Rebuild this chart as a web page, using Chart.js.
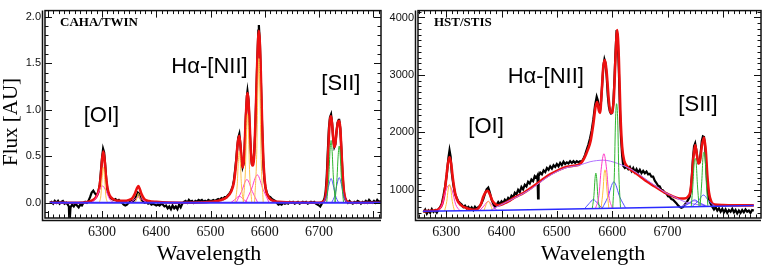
<!DOCTYPE html>
<html>
<head>
<meta charset="utf-8">
<script src="https://cdn.jsdelivr.net/npm/chart.js@4.4.1/dist/chart.umd.min.js"></script>
<style>
  html, body { margin: 0; padding: 0; background: #fff; }
  #wrap { position: relative; width: 764px; height: 268px; overflow: hidden; }
  canvas { position: absolute; top: 0; }
  #cL { left: 0; }
  #cR { left: 384px; }
</style>
</head>
<body>
<div id="wrap">
  <canvas id="cL" width="384" height="268"></canvas>
  <canvas id="cR" width="380" height="268"></canvas>
</div>
<script>
// tick labels
const xLabels = [6300, 6400, 6500, 6600, 6700];
const leftYLabels = [0, 0.5, 1.0, 1.5, 2.0];
const rightYLabels = [1000, 2000, 3000, 4000];

// ---- CAHA/TWIN (left) : [wavelength, flux]
const leftObs = [[6204,0.00],[6207,0.01],[6210,-0.01],[6213,0.02],[6216,0.00],[6219,0.02],[6222,-0.01],[6225,0.01],[6228,0.02],[6231,-0.01],[6234,0.00],[6237,-0.02],[6239,-0.04],[6240,-0.24],[6241,-0.24],[6242,-0.05],[6245,-0.02],[6248,-0.04],[6251,-0.01],[6254,-0.03],[6257,-0.05],[6260,-0.02],[6263,-0.03],[6266,0.00],[6269,0.01],[6272,0.00],[6275,0.02],[6278,0.06],[6281,0.11],[6284,0.13],[6287,0.10],[6290,0.08],[6293,0.11],[6296,0.20],[6298,0.34],[6300,0.48],[6302,0.58],[6304,0.54],[6306,0.40],[6308,0.24],[6310,0.14],[6313,0.08],[6316,0.05],[6319,0.04],[6322,0.03],[6325,0.04],[6328,0.02],[6331,0.03],[6334,0.01],[6337,0.00],[6340,-0.02],[6343,-0.03],[6346,-0.02],[6349,0.00],[6352,0.01],[6355,0.02],[6358,0.02],[6361,0.04],[6364,0.08],[6366,0.11],[6368,0.10],[6370,0.06],[6373,0.03],[6376,0.01],[6379,0.00],[6382,0.01],[6385,-0.01],[6388,0.00],[6391,-0.02],[6394,-0.01],[6397,-0.02],[6400,-0.03],[6403,-0.02],[6406,-0.03],[6409,-0.01],[6412,-0.02],[6415,-0.04],[6418,-0.03],[6421,-0.06],[6424,-0.04],[6427,-0.07],[6430,-0.03],[6433,-0.06],[6436,-0.04],[6439,-0.07],[6442,-0.02],[6445,-0.05],[6448,-0.01],[6451,0.01],[6454,0.02],[6457,0.00],[6460,0.03],[6463,0.01],[6466,0.02],[6469,0.00],[6472,0.02],[6475,0.01],[6478,0.03],[6481,0.02],[6484,0.03],[6487,0.01],[6490,0.02],[6493,0.01],[6496,0.03],[6499,0.02],[6502,0.02],[6505,0.03],[6508,0.02],[6511,0.03],[6514,0.04],[6517,0.03],[6520,0.05],[6523,0.04],[6526,0.06],[6529,0.06],[6532,0.08],[6535,0.10],[6538,0.13],[6541,0.18],[6543,0.24],[6545,0.34],[6547,0.45],[6549,0.58],[6551,0.70],[6553,0.74],[6555,0.63],[6557,0.46],[6559,0.38],[6561,0.42],[6563,0.62],[6565,0.93],[6567,1.15],[6568,1.20],[6570,1.10],[6572,0.80],[6574,0.56],[6576,0.42],[6578,0.42],[6580,0.50],[6582,0.72],[6584,1.10],[6586,1.52],[6588,1.85],[6589,1.91],[6591,1.70],[6593,1.25],[6595,0.82],[6597,0.45],[6599,0.26],[6601,0.17],[6604,0.10],[6607,0.07],[6610,0.06],[6613,0.04],[6616,0.03],[6619,0.02],[6622,0.00],[6625,-0.02],[6628,-0.01],[6631,-0.02],[6634,0.00],[6637,-0.01],[6640,0.00],[6643,-0.01],[6646,0.01],[6649,0.00],[6652,0.01],[6655,-0.01],[6658,0.00],[6661,0.01],[6664,-0.01],[6667,0.00],[6670,0.01],[6673,0.00],[6676,0.01],[6679,-0.01],[6682,0.00],[6685,0.01],[6688,0.00],[6691,0.01],[6694,-0.01],[6697,-0.02],[6700,-0.03],[6702,-0.04],[6704,-0.02],[6706,0.00],[6708,0.02],[6710,0.05],[6712,0.12],[6714,0.28],[6716,0.55],[6718,0.80],[6720,0.92],[6722,0.95],[6724,0.85],[6726,0.68],[6728,0.60],[6730,0.63],[6732,0.76],[6734,0.86],[6736,0.89],[6737,0.89],[6739,0.80],[6741,0.58],[6743,0.32],[6745,0.15],[6747,0.06],[6750,0.02],[6753,0.00],[6756,0.02],[6759,0.00],[6762,-0.01],[6765,0.01],[6768,0.00],[6771,0.02],[6774,0.01],[6777,-0.01],[6780,0.01],[6783,0.00],[6786,0.02],[6789,0.00],[6792,0.03],[6795,0.01],[6798,0.00],[6801,0.02],[6804,0.00],[6807,0.03],[6810,0.01],[6814,0.02]];

const leftFit = [[6204,0.0],[6250,0.0],[6270,0.005],[6280,0.02],[6286,0.04],[6291,0.08],[6295,0.16],[6298,0.30],[6300,0.45],[6302.5,0.55],[6305,0.45],[6307,0.30],[6310,0.16],[6314,0.08],[6320,0.04],[6330,0.02],[6340,0.02],[6350,0.03],[6356,0.05],[6360,0.09],[6364,0.15],[6367,0.18],[6370,0.14],[6373,0.09],[6378,0.04],[6386,0.02],[6400,0.01],[6450,0.0],[6500,0.01],[6520,0.03],[6530,0.06],[6538,0.12],[6543,0.22],[6547,0.42],[6550,0.64],[6553,0.72],[6556,0.55],[6559,0.38],[6562,0.50],[6565,0.92],[6568,1.18],[6571,0.98],[6574,0.58],[6577,0.40],[6580,0.48],[6583,0.92],[6586,1.50],[6589,1.85],[6592,1.52],[6595,0.85],[6598,0.38],[6601,0.17],[6605,0.08],[6612,0.03],[6625,0.01],[6700,0.0],[6709,0.02],[6712,0.07],[6715,0.30],[6718,0.72],[6720,0.89],[6722,0.93],[6724,0.84],[6727,0.63],[6729,0.60],[6732,0.76],[6735,0.87],[6737,0.88],[6739,0.80],[6742,0.45],[6745,0.16],[6748,0.05],[6752,0.01],[6760,0.0],[6814,0.0]];

const leftYellow = [
  [[6295,0],[6298,0.08],[6300,0.25],[6302.5,0.38],[6305,0.25],[6307,0.08],[6310,0]],
  [[6361,0],[6364,0.04],[6367,0.10],[6370,0.04],[6373,0]],
  [[6545,0],[6549,0.18],[6551,0.42],[6553,0.55],[6555,0.42],[6557,0.18],[6561,0]],
  [[6560,0],[6564,0.32],[6566,0.72],[6568,0.95],[6570,0.72],[6572,0.32],[6576,0]],
  [[6581,0],[6585,0.52],[6587,1.18],[6589,1.55],[6591,1.18],[6593,0.52],[6597,0]]
];
const leftMagenta = [
  [[6280,0],[6288,0.04],[6294,0.12],[6301,0.18],[6308,0.12],[6314,0.04],[6322,0]],
  [[6351,0],[6359,0.03],[6367,0.06],[6375,0.03],[6383,0]],
  [[6537,0],[6545,0.035],[6553,0.07],[6561,0.035],[6569,0]],
  [[6547,0],[6557,0.12],[6567,0.25],[6577,0.12],[6587,0]],
  [[6564,0],[6575,0.14],[6586,0.30],[6597,0.14],[6608,0]]
];
const leftGreen = [
  [[6714,0],[6718,0.30],[6720,0.55],[6722,0.67],[6724,0.55],[6726,0.30],[6730,0]],
  [[6729,0],[6733,0.27],[6735,0.50],[6737,0.61],[6739,0.50],[6741,0.27],[6745,0]]
];
const leftBlue = [
  [[6708,0],[6714,0.08],[6718,0.19],[6722,0.26],[6726,0.19],[6730,0.08],[6736,0]],
  [[6723,0],[6729,0.08],[6733,0.20],[6737,0.27],[6741,0.20],[6745,0.08],[6751,0]]
];
const leftBase = [[6204,0],[6814,0]];

// ---- HST/STIS (right)
const rightObs = [[6259,610],[6262,655],[6265,585],[6268,640],[6271,600],[6274,665],[6277,615],[6280,645],[6283,605],[6286,660],[6289,700],[6292,760],[6295,900],[6298,1060],[6301,1260],[6304,1560],[6306,1690],[6308,1580],[6310,1300],[6313,1080],[6316,930],[6319,860],[6322,800],[6325,770],[6328,745],[6331,700],[6334,725],[6337,680],[6340,705],[6343,660],[6346,695],[6349,650],[6352,705],[6355,670],[6358,700],[6361,720],[6364,770],[6367,840],[6370,930],[6373,1010],[6376,1040],[6379,950],[6382,830],[6385,760],[6388,700],[6391,740],[6394,790],[6397,750],[6400,800],[6403,770],[6406,830],[6409,800],[6412,860],[6415,830],[6418,900],[6421,870],[6424,950],[6427,920],[6430,1000],[6433,960],[6436,1050],[6439,1010],[6442,1090],[6445,1060],[6448,1140],[6451,1110],[6454,1180],[6457,1150],[6460,1240],[6463,1210],[6465,1250],[6466,850],[6467,1240],[6470,1300],[6473,1270],[6476,1340],[6479,1310],[6482,1380],[6485,1350],[6488,1410],[6491,1370],[6494,1430],[6497,1400],[6500,1450],[6503,1410],[6506,1470],[6509,1430],[6512,1490],[6515,1450],[6518,1480],[6521,1460],[6524,1500],[6527,1470],[6530,1500],[6533,1470],[6536,1500],[6539,1480],[6542,1500],[6545,1490],[6548,1540],[6551,1610],[6554,1700],[6557,1790],[6560,1900],[6563,2040],[6566,2230],[6569,2470],[6572,2620],[6574,2560],[6576,2420],[6578,2390],[6580,2550],[6582,2850],[6584,3150],[6586,3270],[6588,3200],[6590,2980],[6592,2650],[6594,2450],[6596,2360],[6598,2330],[6600,2340],[6602,2500],[6604,2900],[6606,3400],[6608,3780],[6610,3650],[6612,3100],[6614,2400],[6616,1900],[6618,1600],[6620,1420],[6623,1380],[6626,1400],[6629,1360],[6632,1400],[6635,1330],[6638,1380],[6641,1310],[6644,1360],[6647,1300],[6650,1350],[6653,1290],[6656,1330],[6659,1290],[6662,1320],[6665,1270],[6668,1280],[6671,1230],[6674,1230],[6677,1160],[6680,1120],[6683,1070],[6686,1060],[6689,1000],[6692,990],[6695,950],[6698,940],[6701,890],[6704,880],[6707,840],[6710,830],[6713,800],[6716,770],[6719,730],[6722,705],[6725,690],[6728,700],[6731,740],[6734,780],[6737,820],[6740,880],[6742,980],[6744,1250],[6746,1550],[6748,1760],[6750,1810],[6752,1700],[6754,1540],[6756,1470],[6758,1480],[6760,1650],[6762,1850],[6764,1930],[6766,1920],[6768,1750],[6770,1400],[6772,1080],[6774,880],[6777,780],[6780,720],[6784,660],[6787,700],[6790,640],[6793,680],[6796,620],[6799,670],[6802,610],[6805,660],[6808,600],[6811,650],[6814,620],[6817,670],[6820,610],[6823,650],[6826,590],[6829,640],[6832,600],[6835,650],[6838,610],[6841,660],[6844,620],[6847,640],[6850,600],[6853,650],[6856,640]];

const rightFit = [[6258,630],[6280,640],[6288,680],[6293,760],[6297,950],[6300,1200],[6303,1450],[6306,1570],[6309,1450],[6312,1200],[6316,950],[6320,820],[6326,740],[6335,690],[6345,660],[6352,655],[6358,680],[6363,760],[6367,880],[6371,960],[6375,985],[6379,920],[6383,820],[6388,760],[6394,730],[6410,790],[6424,870],[6440,950],[6454,1040],[6470,1150],[6484,1250],[6500,1330],[6514,1390],[6530,1420],[6542,1450],[6550,1560],[6556,1700],[6561,1850],[6566,2150],[6570,2450],[6573,2530],[6576,2380],[6578,2340],[6581,2700],[6584,3150],[6587,3260],[6590,3050],[6594,2550],[6597,2350],[6600,2340],[6603,2600],[6606,3300],[6609,3780],[6612,3300],[6615,2300],[6618,1750],[6622,1500],[6628,1400],[6638,1320],[6650,1240],[6662,1150],[6677,1060],[6692,970],[6707,900],[6722,850],[6730,850],[6737,880],[6741,960],[6744,1200],[6747,1580],[6750,1780],[6753,1620],[6756,1460],[6759,1520],[6762,1760],[6766,1910],[6769,1700],[6772,1250],[6775,950],[6779,800],[6785,745],[6800,735],[6830,730],[6856,730]];

const rightYellow = [
  [[6297,632],[6301,800],[6303.5,1000],[6306,1096],[6308.5,1000],[6311,800],[6315,632]],
  [[6368,636],[6372,740],[6376,803],[6380,740],[6384,637]],
  [[6580,682],[6583.5,1000],[6585.5,1280],[6587,1349],[6588.5,1280],[6590.5,1000],[6594,684]]
];
const rightMagenta = [
  [[6285,632],[6293,750],[6299,980],[6305,1080],[6311,980],[6317,750],[6325,634]],
  [[6360,635],[6368,720],[6376,800],[6384,720],[6392,638]],
  [[6570,680],[6576,900],[6580,1350],[6585,1629],[6590,1350],[6594,900],[6600,685]]
];
const rightGreen = [
  [[6564,676],[6567,900],[6569,1200],[6570.5,1292],[6572,1200],[6574,900],[6577,676]],
  [[6601,686],[6604,1300],[6606,2200],[6608,2500],[6610,2200],[6612,1300],[6615,690]],
  [[6743,720],[6746,1100],[6748,1450],[6750,1545],[6752,1450],[6754,1100],[6757,720]],
  [[6759,722],[6762,1150],[6764,1560],[6766,1657],[6768,1560],[6770,1150],[6773,722]]
];
const rightBlue = [
  [[6550,672],[6558,760],[6566,831],[6574,760],[6582,680]],
  [[6582,680],[6592,870],[6603,1140],[6614,870],[6624,690]],
  [[6730,715],[6740,770],[6749,826],[6758,770],[6768,722]],
  [[6745,720],[6755,800],[6765,910],[6775,800],[6785,725]]
];
const rightViolet = [
  [[6380,645],[6395,720],[6424,860],[6454,1020],[6484,1230],[6515,1380],[6541,1430],[6560,1490],[6584,1517],[6610,1460],[6636,1348],[6666,1152],[6696,955],[6714,870],[6732,790],[6750,750],[6770,725]],
  [[6725,712],[6737,770],[6748,810],[6759,770],[6771,722]]
];
const rightBase = [[6258,630],[6400,648],[6550,672],[6700,700],[6856,728]];

// ---- helpers
function line(pts, color, width, order, smooth) {
  return {
    data: pts.map(p => ({ x: p[0], y: p[1] })),
    borderColor: color, borderWidth: width, pointRadius: 0, fill: false,
    order: order, tension: 0,
    cubicInterpolationMode: smooth ? 'monotone' : 'default'
  };
}
function group(curves, color, width, order) {
  return curves.map(c => line(c, color, width, order, true));
}

// inward ticks + frame (IDL look)
const frameTicks = {
  id: 'frameTicks',
  afterDatasetsDraw(chart, args, o) {
    const { ctx, chartArea: a, scales: { x, y } } = chart;
    ctx.save();
    ctx.strokeStyle = '#111';
    ctx.lineWidth = 1;
    ctx.beginPath();
    for (let w = 6200; w <= 6860; w += 10) {
      const p = Math.round(x.getPixelForValue(w)) + 0.5;
      if (p <= a.left + 1 || p >= a.right - 1) continue;
      const len = w % 100 === 0 ? 7 : 3.5;
      ctx.moveTo(p, a.bottom); ctx.lineTo(p, a.bottom - len);
      ctx.moveTo(p, a.top); ctx.lineTo(p, a.top + len);
    }
    o.yMinor.forEach(v => {
      const p = Math.round(y.getPixelForValue(v)) + 0.5;
      if (p <= a.top + 1 || p >= a.bottom - 1) return;
      const len = o.yMajor.includes(v) ? 7 : 3.5;
      ctx.moveTo(a.left, p); ctx.lineTo(a.left + len, p);
      ctx.moveTo(a.right, p); ctx.lineTo(a.right - len, p);
    });
    ctx.stroke();
    ctx.lineWidth = 1.5;
    ctx.strokeRect(a.left, a.top, a.right - a.left, a.bottom - a.top);
    ctx.beginPath();
    ctx.moveTo(a.left - 2.5, a.top);
    ctx.lineTo(a.left - 2.5, a.bottom + 2.5);
    ctx.lineTo(a.right, a.bottom + 2.5);
    ctx.stroke();
    ctx.restore();
  }
};

// text labels: data coords (data:true) or canvas pixels
const texts = {
  id: 'texts',
  afterDraw(chart, args, o) {
    const ctx = chart.ctx;
    o.items.forEach(t => {
      let px = t.x, py = t.y;
      if (t.data) { px = chart.scales.x.getPixelForValue(t.x); py = chart.scales.y.getPixelForValue(t.y); }
      ctx.save();
      ctx.font = t.font;
      ctx.fillStyle = '#000';
      ctx.textAlign = t.align || 'center';
      ctx.textBaseline = 'middle';
      ctx.translate(px, py);
      if (t.rot) ctx.rotate(t.rot);
      ctx.fillText(t.text, 0, 0);
      ctx.restore();
    });
  }
};

function makeChart(id, cfg) {
  return new Chart(document.getElementById(id), {
    type: 'line',
    data: { datasets: cfg.datasets },
    plugins: [frameTicks, texts],
    options: {
      responsive: false, animation: false, events: [],
      devicePixelRatio: 1,
      layout: { padding: { left: 0, right: 3, top: 4, bottom: 0 } },
      plugins: {
        legend: { display: false }, tooltip: { enabled: false },
        frameTicks: { yMinor: cfg.yMinor, yMajor: cfg.yLabels },
        texts: { items: cfg.texts }
      },
      scales: {
        x: {
          type: 'linear', min: cfg.xMin, max: cfg.xMax,
          grid: { display: false, drawTicks: false }, border: { display: false },
          afterBuildTicks: s => { s.ticks = xLabels.map(v => ({ value: v })); },
          afterFit: s => { s.height = 50; },
          ticks: { padding: 6, color: '#111', font: { family: 'Liberation Serif', size: 14 }, maxRotation: 0, autoSkip: false, callback: v => String(v) }
        },
        y: {
          min: cfg.yMin, max: cfg.yMax,
          grid: { display: false, drawTicks: false }, border: { display: false },
          afterBuildTicks: s => { s.ticks = cfg.yLabels.map(v => ({ value: v })); },
          afterFit: s => { s.width = cfg.yWidth; },
          ticks: { padding: 4, color: '#111', font: { family: 'Liberation Sans', size: 11 }, autoSkip: false, callback: cfg.yFmt }
        }
      }
    }
  });
}

const leftYMinor = [];
for (let i = -1; i <= 20; i++) leftYMinor.push(i / 10);
const rightYMinor = [];
for (let v = 600; v <= 4100; v += 100) rightYMinor.push(v);

makeChart('cL', {
  xMin: 6195, xMax: 6814, yMin: -0.164, yMax: 2.066, yWidth: 45,
  yLabels: leftYLabels, yMinor: leftYMinor, yFmt: v => v.toFixed(1),
  datasets: [
    line(leftBase, '#3a2cff', 2, 0, false),
    ...group(leftYellow, '#ffc04a', 1, 1),
    ...group(leftMagenta, '#ff3cc8', 1, 1),
    ...group(leftGreen, '#2fb52f', 1, 1),
    ...group(leftBlue, '#4f4fff', 1, 1),
    line(leftFit, '#ec1010', 2.6, 2, true),
    line(leftObs, '#000000', 2.2, 3, false)
  ],
  texts: [
    { text: 'CAHA/TWIN', x: 60, y: 23, align: 'left', font: 'bold 13px "Liberation Serif"' },
    { text: 'Flux [AU]', x: 11, y: 122, rot: -Math.PI / 2, font: '21px "Liberation Serif"' },
    { text: 'Wavelength', x: 209, y: 254, font: '22px "Liberation Serif"' },
    { text: '[OI]', x: 6299, y: 0.93, data: true, font: '22px "Liberation Sans"' },
    { text: 'Hα-[NII]', x: 6498, y: 1.46, data: true, font: '22px "Liberation Sans"' },
    { text: '[SII]', x: 6740, y: 1.28, data: true, font: '22px "Liberation Sans"' }
  ]
});

makeChart('cR', {
  xMin: 6249, xMax: 6869, yMin: 511, yMax: 4120, yWidth: 34,
  yLabels: rightYLabels, yMinor: rightYMinor, yFmt: v => String(v),
  datasets: [
    line(rightBase, '#2a2aff', 1.5, 0, false),
    ...group(rightYellow, '#ffc040', 1, 1),
    ...group(rightMagenta, '#ff3cc8', 1, 1),
    ...group(rightGreen, '#2fb52f', 1, 1),
    ...group(rightBlue, '#5050ff', 1, 1),
    ...group(rightViolet, '#b070ff', 1, 1),
    line(rightFit, '#ec1010', 2.6, 2, true),
    line(rightObs, '#000000', 2.2, 3, false)
  ],
  texts: [
    { text: 'HST/STIS', x: 50, y: 23, align: 'left', font: 'bold 13px "Liberation Serif"' },
    { text: 'Wavelength', x: 209, y: 254, font: '22px "Liberation Serif"' },
    { text: '[OI]', x: 6372, y: 2096, data: true, font: '22px "Liberation Sans"' },
    { text: 'Hα-[NII]', x: 6480, y: 2973, data: true, font: '22px "Liberation Sans"' },
    { text: '[SII]', x: 6755, y: 2484, data: true, font: '22px "Liberation Sans"' }
  ]
});
</script>
</body>
</html>
